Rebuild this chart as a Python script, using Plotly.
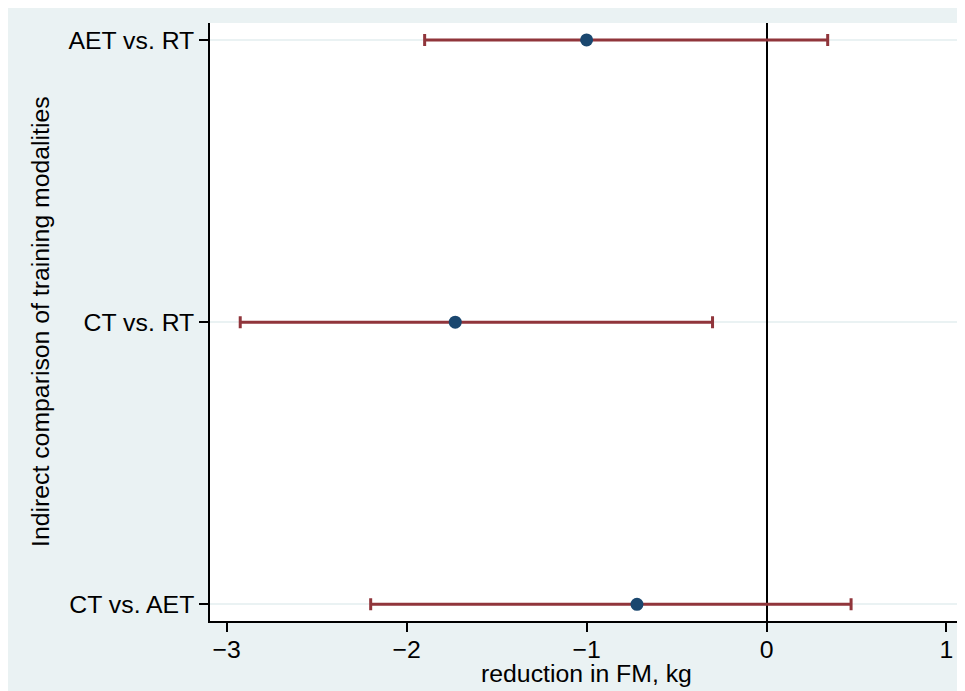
import plotly.graph_objects as go

# Data
comparisons = ["CT vs. AET", "CT vs. RT", "AET vs. RT"]
estimate = [-0.72, -1.73, -1.00]
ci_low = [-2.20, -2.925, -1.90]
ci_high = [0.47, -0.30, 0.34]
x_ticks = [-3, -2, -1, 0, 1]
x_ticktext = ["\u22123", "\u22122", "\u22121", "0", "1"]

err_plus = [h - e for h, e in zip(ci_high, estimate)]
err_minus = [e - l for e, l in zip(estimate, ci_low)]

BG = "#EAF2F3"
FONT = "Liberation Sans, Arial, sans-serif"
FS = 24.8

fig = go.Figure()
fig.add_trace(go.Scatter(
    x=estimate, y=comparisons, mode="markers",
    marker=dict(color="#1A476F", size=13),
    error_x=dict(type="data", symmetric=False, array=err_plus, arrayminus=err_minus,
                 color="#90353B", thickness=3, width=6),
    showlegend=False,
))

fig.update_layout(
    width=957, height=683,
    margin=dict(l=202, r=2, t=15, b=70, pad=0),
    paper_bgcolor=BG, plot_bgcolor="white",
    font=dict(family=FONT, size=FS, color="black"),
    xaxis=dict(range=[-3.093, 1.092], tickvals=x_ticks, ticktext=x_ticktext,
               showgrid=False, zeroline=True, zerolinecolor="black", zerolinewidth=2,
               showline=True, linecolor="black", linewidth=1.5,
               ticks="outside", ticklen=9, tickwidth=1.5, tickcolor="black",
               ticklabelstandoff=-4),
    yaxis=dict(type="category", categoryorder="array", categoryarray=comparisons,
               range=[-0.059, 2.06], showgrid=True, gridcolor=BG, gridwidth=2,
               zeroline=False, showline=True, linecolor="black", linewidth=1.5,
               ticks="outside", ticklen=9, tickwidth=1.5, tickcolor="black"),
    annotations=[
        dict(text="reduction in FM, kg", xref="paper", yref="paper", x=0.5, y=0,
             xanchor="center", yanchor="top", yshift=-37, showarrow=False,
             font=dict(family=FONT, size=FS, color="black")),
        dict(text="Indirect comparison of training modalities", xref="paper", yref="paper",
             x=0, y=0.5, xanchor="center", yanchor="middle", xshift=-170, textangle=-90,
             showarrow=False, font=dict(family=FONT, size=FS, color="black")),
    ],
)

fig.write_html(
    "out.html",
    post_script="document.documentElement.style.overflow='hidden';document.body.style.overflow='hidden';",
)
